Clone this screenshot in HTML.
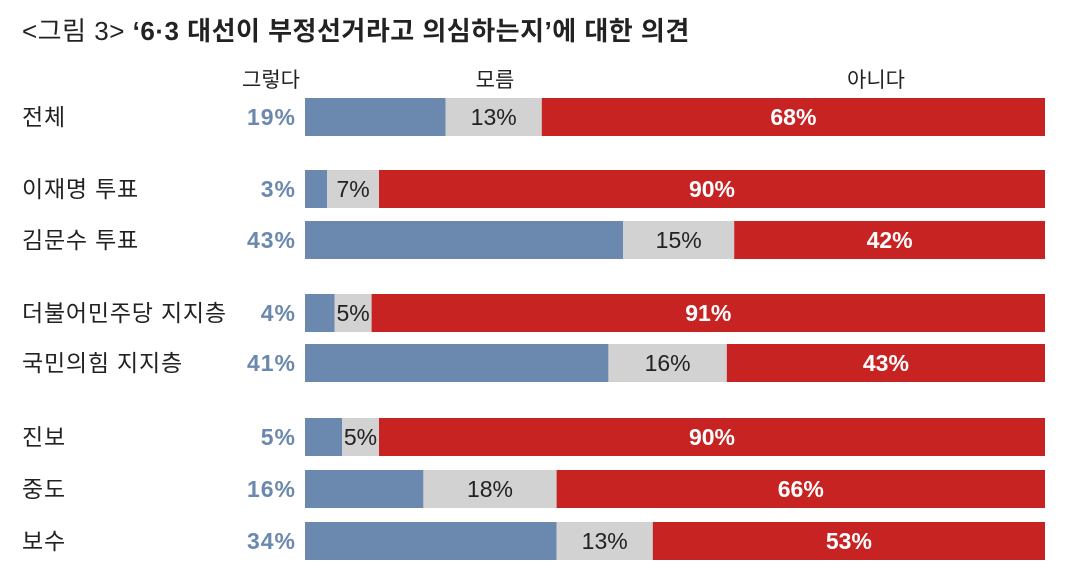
<!DOCTYPE html>
<html><head><meta charset="utf-8"><style>
body{margin:0;background:#fff;width:1079px;height:576px;overflow:hidden;font-family:"Liberation Sans","Noto Sans CJK KR",sans-serif}
svg text{font-family:"Liberation Sans","Noto Sans CJK KR",sans-serif}
</style></head><body>
<svg id="c" width="1079" height="576">
<text x="22" y="40" font-size="26" font-weight="bold" fill="#222" letter-spacing="0.5"><tspan font-weight="normal">&lt;그림 3&gt;</tspan> ‘6·3 대선이 부정선거라고 의심하는지’에 대한 의견</text>
<text x="271" y="87" font-size="21" fill="#222" text-anchor="middle">그렇다</text>
<text x="495" y="87" font-size="21" fill="#222" text-anchor="middle">모름</text>
<text x="876" y="87" font-size="21" fill="#222" text-anchor="middle">아니다</text>
</svg>
<script>
const categories=["전체","이재명 투표","김문수 투표","더불어민주당 지지층","국민의힘 지지층","진보","중도","보수"];
const yesVals=[19,3,43,4,41,5,16,34];
const unkVals=[13,7,15,5,16,5,18,13];
const noVals=[68,90,42,91,43,90,66,53];
const rowTops=[98,170,221,294,344,418,470,522];
const svg=document.getElementById('c');
const NS='http://www.w3.org/2000/svg';
const x0=305,W=740,H=38;
const xs=v=>v/100*W;
function mk(tag,attrs,txt){const e=document.createElementNS(NS,tag);for(const k in attrs)e.setAttribute(k,attrs[k]);if(txt!=null)e.textContent=txt;svg.appendChild(e);return e;}
categories.forEach((c,i)=>{
  const y=rowTops[i],cy=y+H/2+8;
  let e=mk('text',{x:22,y:cy,'font-size':23,fill:'#222','letter-spacing':0.8},c);
  
  
  e=mk('text',{x:296,y:cy,'font-size':23,'font-weight':'bold',fill:'#6b88ae','text-anchor':'end','letter-spacing':1},yesVals[i]+'%');
  
  
  let x=x0;
  const wy=xs(yesVals[i]),wu=xs(unkVals[i]),wn=xs(noVals[i]);
  e=mk('rect',{x:x,y:y,width:wy,height:H,fill:'#6b88ae'});
  
  
  x+=wy;
  e=mk('rect',{x:x,y:y,width:wu,height:H,fill:'#d2d2d2'});
  
  
  e=mk('text',{x:x+wu/2,y:cy,'font-size':23,fill:'#222','text-anchor':'middle'},unkVals[i]+'%');
  
  
  x+=wu;
  e=mk('rect',{x:x,y:y,width:wn,height:H,fill:'#c82323'});
  
  
  e=mk('text',{x:x+wn/2,y:cy,'font-size':23,'font-weight':'bold',fill:'#fff','text-anchor':'middle'},noVals[i]+'%');
  
  
});
</script>
</body></html>
